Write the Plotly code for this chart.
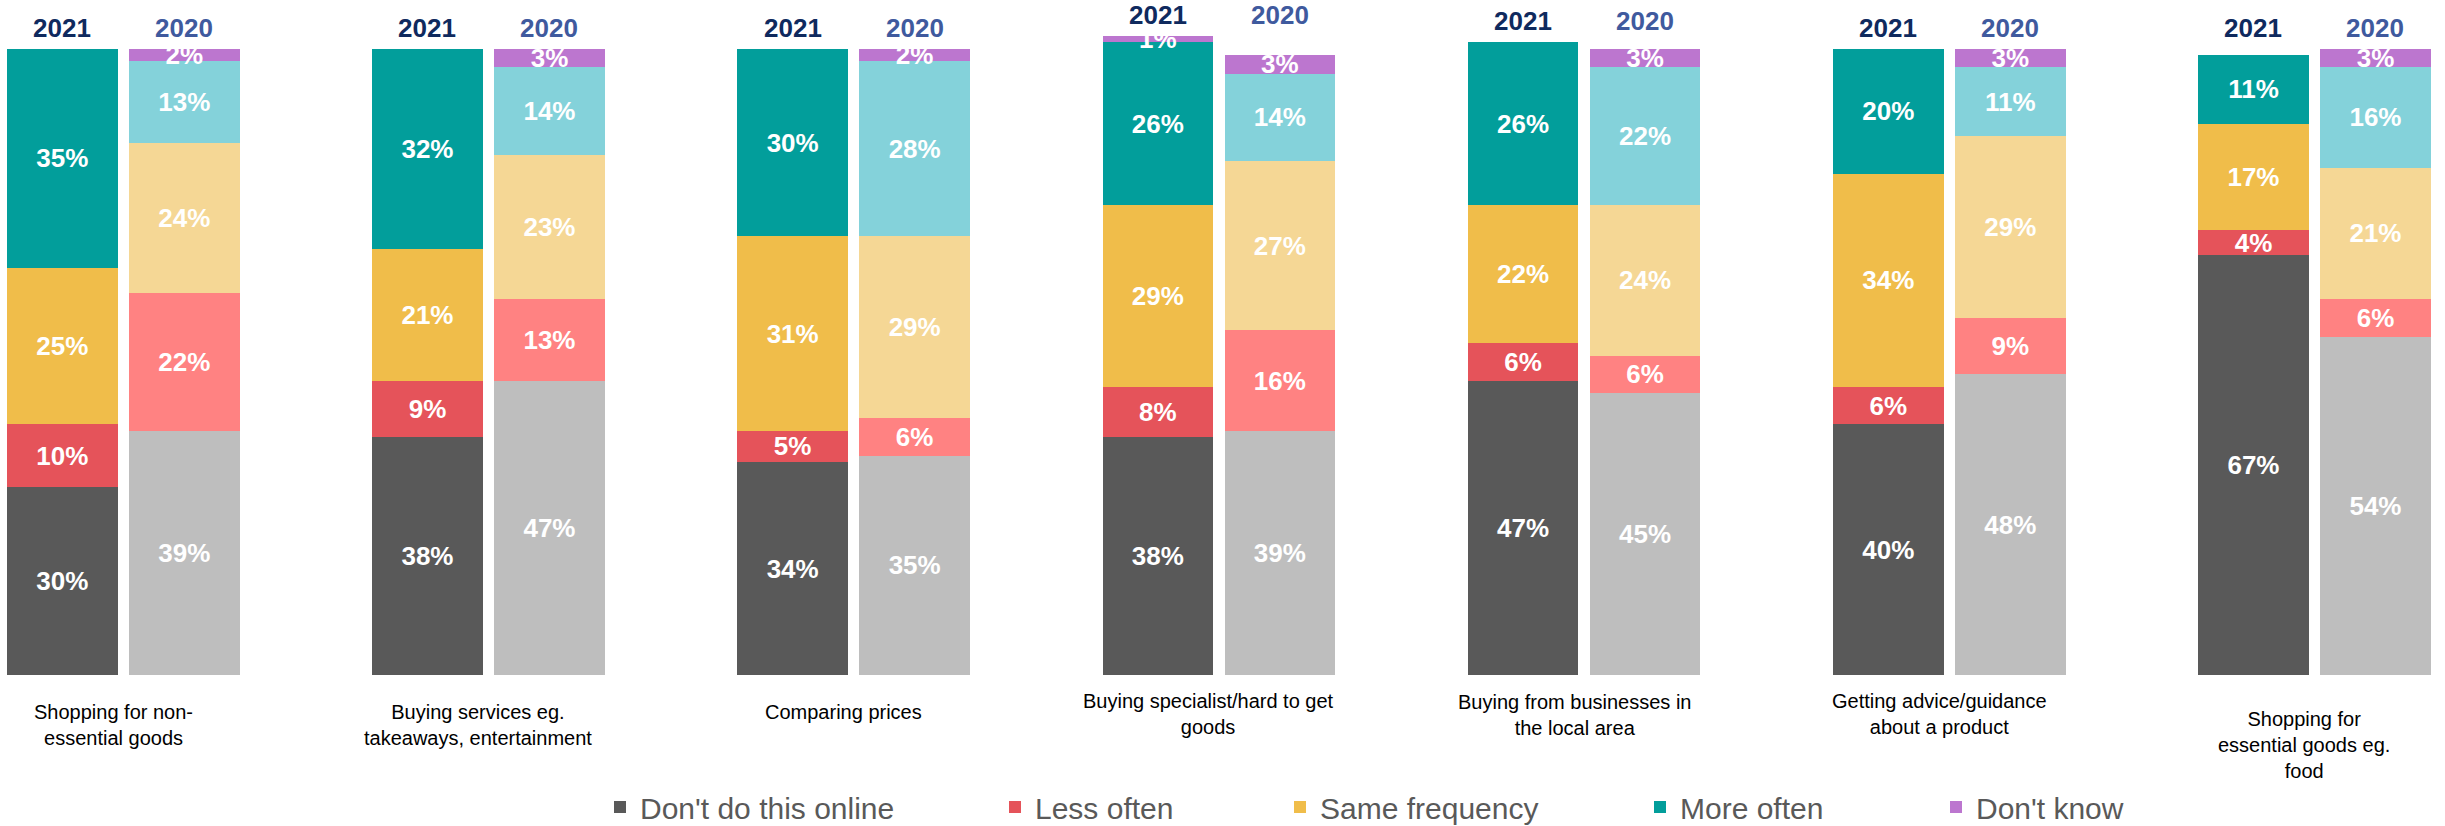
import plotly.graph_objects as go

# ---------------- data ----------------
groups = [
    "Shopping for non-<br>essential goods",
    "Buying services eg.<br>takeaways, entertainment",
    "Comparing prices",
    "Buying specialist/hard to get<br>goods",
    "Buying from businesses in<br>the local area",
    "Getting advice/guidance<br>about a product",
    "Shopping for<br>essential goods eg.<br>food",
]
years = ["2021", "2020"]
series = ["Don't do this online", "Less often", "Same frequency", "More often", "Don't know"]

dont_do_2021 = [30, 38, 34, 38, 47, 40, 67]
less_2021 = [10, 9, 5, 8, 6, 6, 4]
same_2021 = [25, 21, 31, 29, 22, 34, 17]
more_2021 = [35, 32, 30, 26, 26, 20, 11]
dontknow_2021 = [0, 0, 0, 1, 0, 0, 0]

dont_do_2020 = [39, 47, 35, 39, 45, 48, 54]
less_2020 = [22, 13, 6, 16, 6, 9, 6]
same_2020 = [24, 23, 29, 27, 24, 29, 21]
more_2020 = [13, 14, 28, 14, 22, 11, 16]
dontknow_2020 = [2, 3, 2, 3, 3, 3, 3]

# ---------------- styles ----------------
FONT = "Liberation Sans, Arial, sans-serif"
colors_2021 = ["#595959", "#E5535A", "#F0BD4A", "#029E9B", "#BC76CF"]
colors_2020 = ["#BEBEBE", "#FF8282", "#F5D795", "#84D2DA", "#BC76CF"]
year_colors = ["#0F2A5E", "#3F5A9E"]
PITCH_PX = 365.2       # pixels per group
BAR_PX = 110.5         # bar width in pixels
HALF_GAP_PX = 61.0     # distance of each bar centre from group centre
FIRST_CENTER_PX = 123.25
OFF = HALF_GAP_PX / PITCH_PX
BW = BAR_PX / PITCH_PX
label_shift = [-24, -24, -24, -13, -14, -13, -31]
legend_x_px = [600, 995, 1280, 1640, 1936]
LEGEND_Y_PX = 807

W, H = 2445, 826
BASE_PX = 675          # pixel row of the value 0
PX_PER_PCT = 6.265
M_L, M_R = 0, 0
M_B = H - BASE_PX

vals_2021 = [dont_do_2021, less_2021, same_2021, more_2021, dontknow_2021]
vals_2020 = [dont_do_2020, less_2020, same_2020, more_2020, dontknow_2020]

idx = list(range(len(groups)))
x21 = [i - OFF for i in idx]
x20 = [i + OFF for i in idx]

tot21 = [sum(v[i] for v in vals_2021) for i in idx]
tot20 = [sum(v[i] for v in vals_2020) for i in idx]
y_top = max(max(tot21), max(tot20))
M_T = int(round(BASE_PX - y_top * PX_PER_PCT))
plot_h = H - M_T - M_B

fig = go.Figure()
legend_names = ["legend", "legend2", "legend3", "legend4", "legend5"]


def txt(vs):
    return [f"{v}%" if v else "" for v in vs]


for k, name in enumerate(series):
    fig.add_trace(go.Bar(
        x=x21, y=vals_2021[k], width=BW, name=name,
        marker=dict(color=colors_2021[k], line=dict(width=0)),
        text=txt(vals_2021[k]), textposition="inside", insidetextanchor="middle",
        textangle=0, constraintext="none", cliponaxis=True,
        textfont=dict(color="white", size=26, family=FONT, weight="bold"),
        legend=legend_names[k], showlegend=True, hoverinfo="skip",
    ))
for k, name in enumerate(series):
    fig.add_trace(go.Bar(
        x=x20, y=vals_2020[k], width=BW, name=name + " 2020",
        marker=dict(color=colors_2020[k], line=dict(width=0)),
        text=txt(vals_2020[k]), textposition="inside", insidetextanchor="middle",
        textangle=0, constraintext="none", cliponaxis=True,
        textfont=dict(color="white", size=26, family=FONT, weight="bold"),
        showlegend=False, hoverinfo="skip",
    ))

annotations = []
for i in idx:
    top = max(tot21[i], tot20[i])
    for j, (xx, yr) in enumerate(zip([x21[i], x20[i]], years)):
        annotations.append(dict(
            x=xx, y=top, xref="x", yref="y", text=f"<b>{yr}</b>", showarrow=False,
            yanchor="bottom", yshift=4,
            font=dict(size=26, color=year_colors[j], family=FONT),
        ))
    annotations.append(dict(
        x=i, y=0, xref="x", yref="y", text=groups[i], showarrow=False,
        yanchor="top", yshift=label_shift[i], xshift=-10,
        font=dict(size=20, color="#000000", family=FONT), align="center",
    ))

x_left = -FIRST_CENTER_PX / PITCH_PX
x_right = x_left + (W - M_L - M_R) / PITCH_PX

legend_y = (BASE_PX - LEGEND_Y_PX) / plot_h
layout_legends = {}
for k, ln in enumerate(legend_names):
    layout_legends[ln] = dict(
        x=legend_x_px[k] / (W - M_L - M_R), y=legend_y, xanchor="left", yanchor="middle",
        orientation="h", bgcolor="rgba(0,0,0,0)", borderwidth=0,
        font=dict(size=30, color="#595959", family=FONT),
    )

fig.update_layout(
    width=W, height=H,
    margin=dict(l=M_L, r=M_R, t=M_T, b=M_B, pad=0, autoexpand=False),
    barmode="stack",
    plot_bgcolor="white", paper_bgcolor="white",
    xaxis=dict(range=[x_left, x_right], visible=False, fixedrange=True),
    yaxis=dict(range=[0, y_top], visible=False, fixedrange=True),
    annotations=annotations,
    font=dict(family=FONT),
    **layout_legends,
)

fig.write_html("out.html", config={"displayModeBar": False},
               post_script="document.body.style.margin='0';")
